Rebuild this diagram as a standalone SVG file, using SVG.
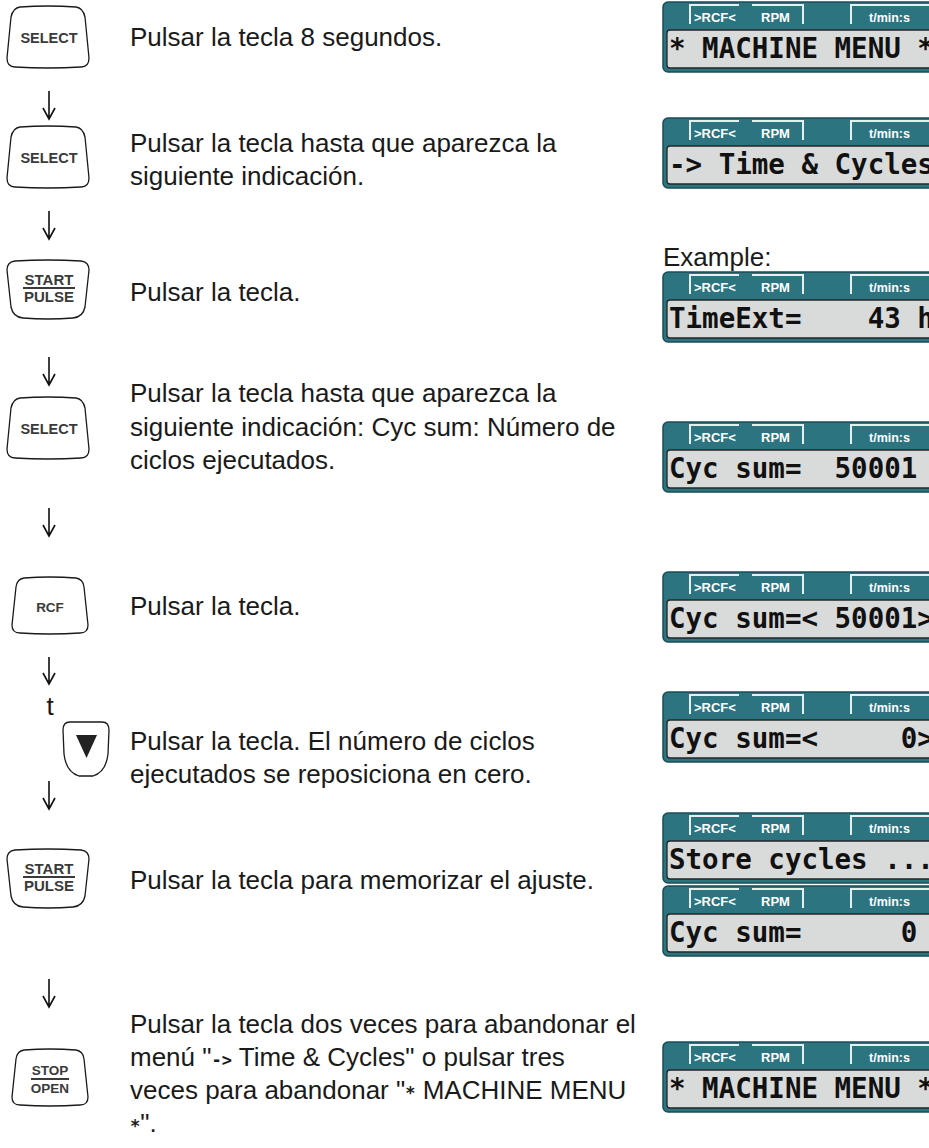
<svg xmlns="http://www.w3.org/2000/svg" xmlns:xlink="http://www.w3.org/1999/xlink" width="929" height="1148" viewBox="0 0 929 1148">
<style>
.key{fill:#fff;stroke:#1a1a1a;stroke-width:1.3}
.kt{font-family:"Liberation Sans",Arial,sans-serif;font-weight:bold;fill:#3a3a3a;text-anchor:middle}
.kl{stroke:#3a3a3a;stroke-width:2}
.body{font-family:"Liberation Sans",Arial,sans-serif;font-size:26px;fill:#1a1a1a}
.sym{font-family:"DejaVu Sans Mono",monospace;font-weight:bold;font-size:17px}
.lcdo{fill:#2b7480;stroke:#1d4c55;stroke-width:1.5}
.lcdi{fill:#d9dada;stroke:#262626;stroke-width:1.3}
.fr{fill:none;stroke:#e6eeee;stroke-width:2}
.lb{font-family:"Liberation Sans",Arial,sans-serif;font-weight:bold;font-size:13px;fill:#fff}
.lt{font-family:"DejaVu Sans Mono",monospace;font-weight:bold;font-size:27.5px;fill:#111;white-space:pre}
.arr{stroke:#111;stroke-width:1.6;fill:none}
</style>
<defs>
<g id="lcdframe">
<rect class="lcdo" x="663" y="2" width="290" height="70" rx="5"/>
<path class="fr" d="M690,24 V5 H739 M752,5 H803 V24 M851,24 V5 H940"/>
<text class="lb" x="694" y="22">&gt;RCF&lt;</text>
<text class="lb" x="761" y="22">RPM</text>
<text class="lb" x="869" y="22" style="font-size:12.5px">t/min:s</text>
<rect class="lcdi" x="667" y="30" width="290" height="38" rx="3"/>
</g>
<path id="keyA" d="M13,0 Q41,-2 69,0 Q76,1 78,10 L82,51 Q82,60 74,60 Q41,62 8,60 Q0,60 0,51 L4,10 Q6,1 13,0 Z"/>
<path id="keyB" d="M8,0 Q41,-2 74,0 Q82,1 82,9 L78,46 Q76,56 66,57 Q41,59 16,57 Q6,56 4,46 L0,9 Q0,1 8,0 Z"/>
<path id="keyC" d="M12,0 Q38,-2 64,0 Q71,1 72,9 L76,47 Q76,55 68,55 Q38,57 8,55 Q0,55 0,47 L4,9 Q5,1 12,0 Z"/>
<path id="keyD" d="M7,0 H39 Q46,0 46,8 L45,32 Q43,50 30,54 H16 Q3,50 1,32 L0,8 Q0,0 7,0 Z"/>
</defs>

<g id="key1"><use href="#keyA" class="key" x="7" y="7"/><text class="kt" x="49" y="43" font-size="14.5">SELECT</text></g>
<g id="key2"><use href="#keyA" class="key" x="7" y="127"/><text class="kt" x="49" y="163" font-size="14.5">SELECT</text></g>
<g id="key3"><use href="#keyB" class="key" x="7" y="261"/><text class="kt" x="49" y="285" font-size="15">START</text><line class="kl" x1="23" y1="288" x2="75" y2="288"/><text class="kt" x="49" y="302" font-size="15">PULSE</text></g>
<g id="key4"><use href="#keyA" class="key" x="7" y="398"/><text class="kt" x="49" y="434" font-size="14.5">SELECT</text></g>
<g id="key5"><use href="#keyC" class="key" x="12" y="578"/><text class="kt" x="50" y="612" font-size="13.5">RCF</text></g>
<g id="key6"><use href="#keyD" class="key" x="63" y="722"/><path d="M76,735 H97 L86.5,758 Z" fill="#222"/></g>
<g id="key7"><use href="#keyB" class="key" x="7" y="850"/><text class="kt" x="49" y="874" font-size="15">START</text><line class="kl" x1="23" y1="877" x2="75" y2="877"/><text class="kt" x="49" y="891" font-size="15">PULSE</text></g>
<g id="key8"><use href="#keyC" class="key" x="12" y="1050"/><text class="kt" x="50" y="1075" font-size="13.5">STOP</text><line class="kl" x1="31" y1="1079" x2="69" y2="1079"/><text class="kt" x="50" y="1093" font-size="13.5">OPEN</text></g>

<g id="connectors">
<path class="arr" d="M49,91 V119 M43,108 L49,119 L55,108"/>
<path class="arr" d="M49,211 V239 M43,228 L49,239 L55,228"/>
<path class="arr" d="M49,357 V385 M43,374 L49,385 L55,374"/>
<path class="arr" d="M49,508 V536 M43,525 L49,536 L55,525"/>
<path class="arr" d="M49,657 V684 M43,673 L49,684 L55,673"/>
<path class="arr" d="M49,781 V809 M43,798 L49,809 L55,798"/>
<path class="arr" d="M49,979 V1007 M43,996 L49,1007 L55,996"/>
</g>
<text class="body" x="50" y="715" font-size="29" text-anchor="middle">t</text>

<g id="step1"><text class="body" x="130" y="46">Pulsar la tecla 8 segundos.</text></g>
<g id="step2"><text class="body" x="130" y="152">Pulsar la tecla hasta que aparezca la</text><text class="body" x="130" y="185">siguiente indicación.</text></g>
<g id="step3"><text class="body" x="130" y="301">Pulsar la tecla.</text></g>
<g id="step4"><text class="body" x="130" y="402">Pulsar la tecla hasta que aparezca la</text><text class="body" x="130" y="436">siguiente indicación: Cyc sum: Número de</text><text class="body" x="130" y="469">ciclos ejecutados.</text></g>
<g id="step5"><text class="body" x="130" y="615">Pulsar la tecla.</text></g>
<g id="step6"><text class="body" x="130" y="750">Pulsar la tecla. El número de ciclos</text><text class="body" x="130" y="783">ejecutados se reposiciona en cero.</text></g>
<g id="step7"><text class="body" x="130" y="889">Pulsar la tecla para memorizar el ajuste.</text></g>
<g id="step8"><text class="body" x="130" y="1033">Pulsar la tecla dos veces para abandonar el</text><text class="body" x="130" y="1066">menú "<tspan class="sym">-&gt;</tspan> Time &amp; Cycles" o pulsar tres</text><text class="body" x="130" y="1099">veces para abandonar "<tspan class="sym">*</tspan> MACHINE MENU</text><text class="body" x="130" y="1132"><tspan class="sym">*</tspan>".</text></g>

<text class="body" x="663" y="266" font-size="22">Example:</text>

<g id="lcd1" transform="translate(0,0)"><use href="#lcdframe"/><text class="lt" x="669" y="58">* MACHINE MENU *</text></g>
<g id="lcd2" transform="translate(0,116)"><use href="#lcdframe"/><text class="lt" x="669" y="58">-&gt; Time &amp; Cycles</text></g>
<g id="lcd3" transform="translate(0,270)"><use href="#lcdframe"/><text class="lt" x="669" y="58">TimeExt=    43 h</text></g>
<g id="lcd4" transform="translate(0,420)"><use href="#lcdframe"/><text class="lt" x="669" y="58">Cyc sum=  50001</text></g>
<g id="lcd5" transform="translate(0,570)"><use href="#lcdframe"/><text class="lt" x="669" y="58">Cyc sum=&lt; 50001&gt;</text></g>
<g id="lcd6" transform="translate(0,690)"><use href="#lcdframe"/><text class="lt" x="669" y="58">Cyc sum=&lt;     0&gt;</text></g>
<g id="lcd7" transform="translate(0,811)"><use href="#lcdframe"/><text class="lt" x="669" y="58">Store cycles ...</text></g>
<g id="lcd8" transform="translate(0,884)"><use href="#lcdframe"/><text class="lt" x="669" y="58">Cyc sum=      0</text></g>
<g id="lcd9" transform="translate(0,1040)"><use href="#lcdframe"/><text class="lt" x="669" y="58">* MACHINE MENU *</text></g>
</svg>
